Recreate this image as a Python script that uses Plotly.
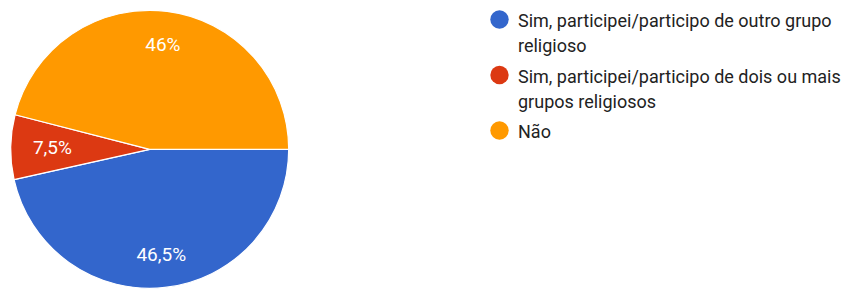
import plotly.graph_objects as go

# ---- data ----
labels = [
    "Sim, participei/participo de outro grupo<br>religioso",
    "Sim, participei/participo de dois ou mais<br>grupos religiosos",
    "Não",
]
values = [46.5, 7.5, 46.0]
colors = ["#3366cc", "#dc3912", "#ff9900"]

W, H = 846, 289
CX, CY, R = 149.7, 149.3, 139.0


def px_x(x):
    return x / W


def px_y(y):
    return 1 - y / H


def fmt(v):
    s = f"{v:g}".replace(".", ",")
    return s + "%"


def domain_for(radius):
    return dict(x=[px_x(CX - radius), px_x(CX + radius)],
                y=[px_y(CY + radius), px_y(CY - radius)])


texts = [fmt(v) for v in values]
small = [v < 10 for v in values]
texts_big = [("" if s else t) for t, s in zip(texts, small)]
texts_small = [(t if s else "") for t, s in zip(texts, small)]

common = dict(
    labels=labels, values=values, sort=False, direction="clockwise",
    rotation=90, showlegend=False,
)
label_font = dict(family="Roboto", size=19, color="#ffffff")
clear = dict(colors=["rgba(0,0,0,0)"] * len(values), line=dict(width=0))

fig = go.Figure()
# coloured slices
fig.add_trace(go.Pie(
    **common,
    textinfo="none",
    marker=dict(colors=colors, line=dict(color="#ffffff", width=1.2)),
    hoverinfo="label+percent",
    domain=domain_for(R),
))
# transparent ring carrying the large-slice labels near the rim
fig.add_trace(go.Pie(
    **common,
    text=texts_big, textinfo="text", textposition="inside",
    insidetextorientation="horizontal", insidetextfont=label_font,
    marker=clear, hole=0.52, hoverinfo="skip",
    domain=domain_for(R),
))
# transparent smaller pie carrying the small-slice label slightly inward
fig.add_trace(go.Pie(
    **common,
    text=texts_small, textinfo="text", textposition="inside",
    insidetextorientation="horizontal", insidetextfont=label_font,
    marker=clear, hoverinfo="skip",
    domain=domain_for(120.0),
))

# ---- custom legend (circle markers, first-line aligned) ----
line_h = 25.0
gap = 5.5
y_cursor = 19.5
shapes = []
annotations = []
for lab, col in zip(labels, colors):
    lines = lab.split("<br>")
    r = 9.2
    cx = 499.5
    shapes.append(dict(
        type="circle", xref="paper", yref="paper",
        x0=px_x(cx - r), x1=px_x(cx + r),
        y0=px_y(y_cursor + r), y1=px_y(y_cursor - r),
        fillcolor=col, line=dict(width=0),
    ))
    for i, ln in enumerate(lines):
        annotations.append(dict(
            x=px_x(516.0), y=px_y(y_cursor + i * line_h + 1),
            xref="paper", yref="paper",
            xanchor="left", yanchor="middle",
            text=ln, showarrow=False,
            font=dict(family="Roboto", size=18, color="#222222"),
        ))
    y_cursor += len(lines) * line_h + gap

fig.update_layout(
    width=W, height=H,
    margin=dict(l=0, r=0, t=0, b=0),
    paper_bgcolor="#ffffff",
    plot_bgcolor="#ffffff",
    shapes=shapes,
    annotations=annotations,
    showlegend=False,
)

fig.write_html(
    "out.html",
    config={"displayModeBar": False},
    post_script="document.body.style.margin='0';",
)
